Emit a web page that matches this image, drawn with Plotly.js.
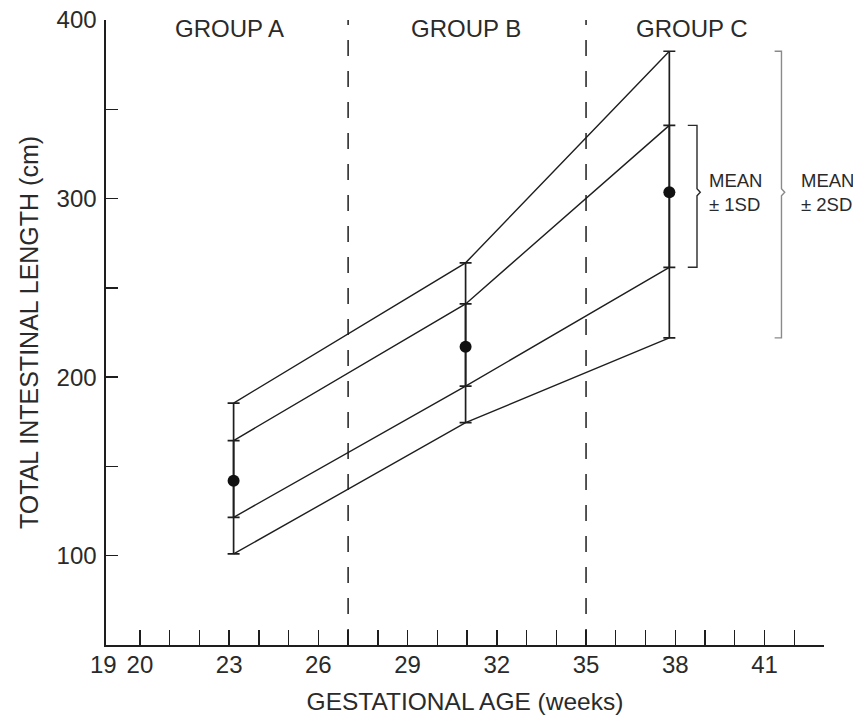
<!DOCTYPE html>
<html>
<head>
<meta charset="utf-8">
<script src="https://cdn.plot.ly/plotly-3.0.1.min.js"></script>
<style>html,body{margin:0;padding:0;background:#fff;}#chart{width:853px;height:721px;}</style>
</head>
<body>
<div id="chart"></div>
<script>
// ---- data ----
const groupNames = ["GROUP A", "GROUP B", "GROUP C"];
const groupAge = [23.15, 30.95, 37.8];          // gestational age (weeks)
const meanLen  = [142, 217, 303.5];             // mean total intestinal length (cm)
const plus1SD  = [164.5, 241, 341];
const minus1SD = [121.5, 195, 261.5];
const plus2SD  = [185.5, 264, 382.5];
const minus2SD = [101, 174.5, 222];
const groupBoundaries = [27, 35];               // dashed dividers (weeks)
const groupLabelX = [23.0, 30.95, 38.55];

const xTickVals = [20,21,22,23,24,25,26,27,28,29,30,31,32,33,34,35,36,37,38,39,40,41,42,43];
const xTickText = ["20","","","23","","","26","","","29","","","32","","","35","","","38","","","41","",""];
const xOriginLabel = "19";
const yTickVals = [100,150,200,250,300,350,400];
const yTickText = ["100","","200","","300","","400"];

const ink = "#1e1e1e";
const txt = "#2a2a2a";
const font = "Liberation Sans, Arial, Helvetica, sans-serif";

const traces = [];
// SD band lines
[plus2SD, plus1SD, minus1SD, minus2SD].forEach(arr => {
  traces.push({x: groupAge, y: arr, mode: "lines", line: {color: ink, width: 1.4}, hoverinfo: "skip", showlegend: false});
});
// +-2SD error bars
traces.push({
  x: groupAge, y: meanLen, mode: "markers", marker: {size: 0.1, color: ink}, showlegend: false,
  error_y: {type: "data", symmetric: false,
    array: plus2SD.map((v,i) => v - meanLen[i]),
    arrayminus: meanLen.map((v,i) => v - minus2SD[i]),
    color: ink, thickness: 1.7, width: 6}
});
// +-1SD error bars with mean marker
traces.push({
  x: groupAge, y: meanLen, mode: "markers", marker: {size: 12, color: "#111"}, showlegend: false,
  error_y: {type: "data", symmetric: false,
    array: plus1SD.map((v,i) => v - meanLen[i]),
    arrayminus: meanLen.map((v,i) => v - minus1SD[i]),
    color: ink, thickness: 1.7, width: 6}
});

const shapes = groupBoundaries.map(b => ({
  type: "line", xref: "x", yref: "paper", x0: b, x1: b, y0: 0, y1: 1,
  line: {color: ink, width: 1.5, dash: "16px,15px"}
}));

// brace helper for the "MEAN ± SD" key next to group C
function brace(x0, x1, x2, top, bot, mid, color) {
  return {type: "path", xref: "x", yref: "y",
    path: `M ${x0},${top} L ${x1},${top} L ${x1},${mid+2} L ${x2},${mid} L ${x1},${mid-2} L ${x1},${bot} L ${x0},${bot}`,
    line: {color: color, width: 1.4}};
}
const c = groupAge.length - 1;
shapes.push(brace(38.42, 38.73, 38.84, plus1SD[c], minus1SD[c], meanLen[c], "#2a2a2a"));
shapes.push(brace(41.34, 41.57, 41.68, plus2SD[c], minus2SD[c], meanLen[c], "#8a8a8a"));

const annotations = groupNames.map((g,i) => ({
  x: groupLabelX[i], y: 395.5, xref: "x", yref: "y", text: g, showarrow: false,
  font: {family: font, size: 24, color: txt}, xanchor: "center", yanchor: "middle"
}));
annotations.push({x: 39.05, y: meanLen[c], xref: "x", yref: "y", text: "MEAN<br>± 1SD", showarrow: false,
  align: "left", xanchor: "left", yanchor: "middle", font: {family: font, size: 18.5, color: txt}});
annotations.push({x: 42.15, y: meanLen[c], xref: "x", yref: "y", text: "MEAN<br>± 2SD", showarrow: false,
  align: "left", xanchor: "left", yanchor: "middle", font: {family: font, size: 18.5, color: txt}});
annotations.push({x: 0, y: 0, xref: "paper", yref: "paper", text: xOriginLabel, showarrow: false,
  xanchor: "center", yanchor: "top", xshift: -3, yshift: -4, font: {family: font, size: 24, color: txt}});

const layout = {
  width: 853, height: 721,
  margin: {l: 106, r: 29, t: 20, b: 76},
  paper_bgcolor: "#fff", plot_bgcolor: "#fff",
  showlegend: false,
  font: {family: font, color: txt},
  xaxis: {
    range: [18.86, 43], showgrid: false, zeroline: false,
    showline: true, linecolor: ink, linewidth: 1.6,
    ticks: "inside", ticklen: 15, tickwidth: 1.4, tickcolor: ink,
    tickmode: "array", tickvals: xTickVals, ticktext: xTickText,
    tickfont: {family: font, size: 24, color: txt}, ticklabelstandoff: -2,
    title: {text: "GESTATIONAL AGE (weeks)", font: {family: font, size: 24.5, color: txt}, standoff: 15}
  },
  yaxis: {
    range: [50, 400], showgrid: false, zeroline: false,
    showline: true, linecolor: ink, linewidth: 1.6,
    ticks: "inside", ticklen: 12, tickwidth: 1.4, tickcolor: ink,
    tickmode: "array", tickvals: yTickVals, ticktext: yTickText,
    tickfont: {family: font, size: 24, color: txt}, ticklabelstandoff: 3,
    title: {text: "TOTAL INTESTINAL LENGTH (cm)", font: {family: font, size: 25, color: txt}, standoff: 11}
  },
  shapes: shapes,
  annotations: annotations
};

Plotly.newPlot("chart", traces, layout, {displayModeBar: false, staticPlot: true});
</script>
</body>
</html>
